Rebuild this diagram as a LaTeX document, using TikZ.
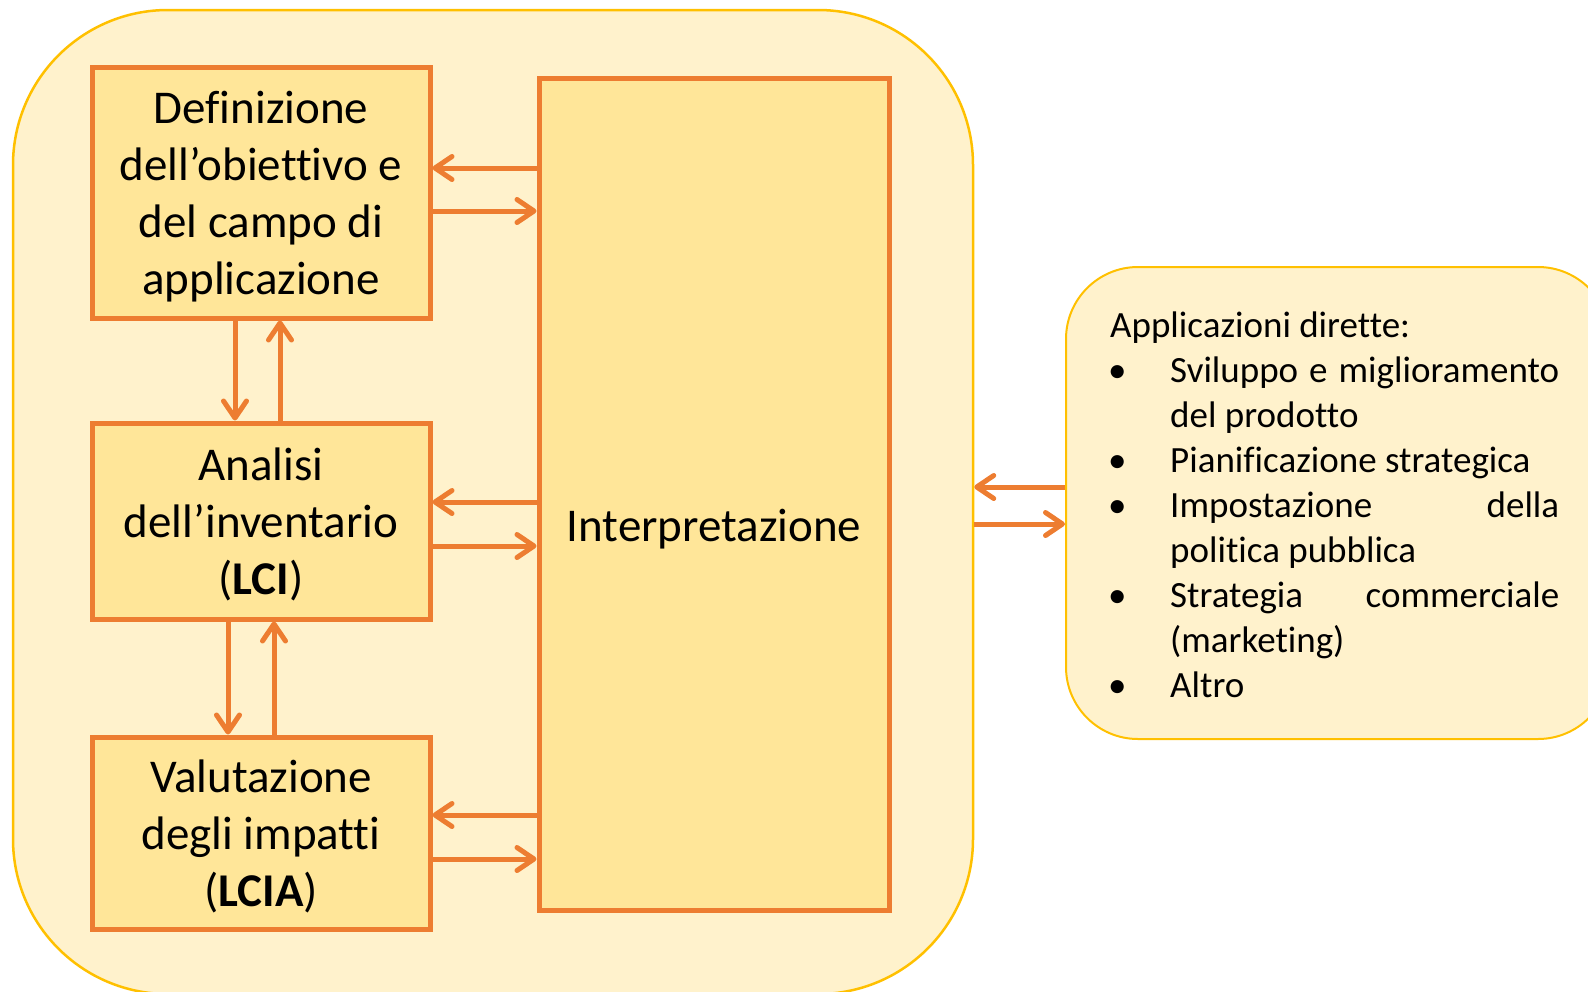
\documentclass[tikz,border=0pt]{standalone}
\usepackage{fontspec}
\setmainfont{Carlito}[Ligatures={NoCommon}]
\usetikzlibrary{arrows.meta}
\definecolor{panelfill}{HTML}{FFF2CC}
\definecolor{paneledge}{HTML}{FFC000}
\definecolor{boxfill}{HTML}{FFE699}
\definecolor{boxedge}{HTML}{ED7D31}
% invisible struts fixing the vertical extent of the phase labels
\newcommand\phasetop{\rule{0pt}{43pt}}
\newcommand\phasebot{\rule[-10pt]{0pt}{10pt}}

\begin{document}
\begin{tikzpicture}[x=1pt,y=-1pt,
  panel/.style={draw=paneledge, fill=panelfill, line width=2.5pt, inner sep=0pt},
  phase/.style={draw=boxedge, fill=boxfill, line width=5pt, align=center,
    font=\fontsize{47}{57}\selectfont, inner sep=0pt},
  flow/.style={draw=boxedge, line width=5pt,
    -{Straight Barb[length=17pt,width=23pt,line cap=round,line join=round]}},
  listtext/.style={anchor=base west, inner sep=0pt, font=\fontsize{37}{45}\selectfont}]
\useasboundingbox (0,0) rectangle (1588,991);
\clip (0,0) rectangle (1588,991);

% outer LCA framework and the applications panel
\node[panel, rounded corners=155pt, minimum width=960pt, minimum height=984pt] (frame) at (493,502) {};
\node[panel, line width=2pt, rounded corners=72pt, minimum width=544pt, minimum height=472pt] (apps) at (1338,503) {};

% the four phases
\node[phase, minimum width=338pt, minimum height=251pt] (goal) at (261,192.5)
  {\phasetop Definizione\\dell’obiettivo e\\del campo di\\applicazione\phasebot};
\node[phase, minimum width=338pt, minimum height=196pt] (lci) at (261,521)
  {\phasetop Analisi\\dell’inventario\\(\textbf{LCI})\phasebot};
\node[phase, minimum width=338pt, minimum height=192pt] (lcia) at (261,833)
  {\phasetop Valutazione\\degli impatti\\(\textbf{LCIA})\phasebot};
\node[phase, minimum width=350pt, minimum height=832pt] (interp) at (714,494) {};
\node[anchor=base, inner sep=0pt, font=\fontsize{47}{57}\selectfont] (interplabel) at (714,541) {Interpretazione};

% exchanges with the interpretation phase
\draw[flow] (interp.west |- 0,168) -- (goal.east |- 0,168);
\draw[flow] (goal.east |- 0,211) -- (interp.west |- 0,211);
\draw[flow] (interp.west |- 0,502) -- (lci.east |- 0,502);
\draw[flow] (lci.east |- 0,546) -- (interp.west |- 0,546);
\draw[flow] (interp.west |- 0,815) -- (lcia.east |- 0,815);
\draw[flow] (lcia.east |- 0,859) -- (interp.west |- 0,859);

% iterations between consecutive phases
\draw[flow] (goal.south -| 235,0) -- (lci.north -| 235,0);
\draw[flow] (lci.north -| 280,0) -- (goal.south -| 280,0);
\draw[flow] (lci.south -| 228,0) -- (lcia.north -| 228,0);
\draw[flow] (lcia.north -| 274,0) -- (lci.south -| 274,0);

% link to direct applications
\draw[flow] (apps.west |- 0,487) -- (frame.east |- 0,487);
\draw[flow] (frame.east |- 0,524) -- (apps.west |- 0,524);

% list of direct applications
\node[listtext] (head) at (1110,337) {Applicazioni dirette:};
\foreach \k in {1,3,4,6,8} {
  \node[listtext] (bullet\k) at (1108,337+45*\k) {\textbullet};
}
\node[listtext] (item1a) at (1170,382) {\makebox[389pt][s]{Sviluppo e miglioramento}};
\node[listtext] (item1b) at (1170,427) {del prodotto};
\node[listtext] (item2) at (1170,472) {Pianificazione strategica};
\node[listtext] (item3a) at (1170,517) {\makebox[389pt][s]{Impostazione della}};
\node[listtext] (item3b) at (1170,562) {politica pubblica};
\node[listtext] (item4a) at (1170,607) {\makebox[389pt][s]{Strategia commerciale}};
\node[listtext] (item4b) at (1170,652) {(marketing)};
\node[listtext] (item5) at (1170,697) {Altro};
\end{tikzpicture}
\end{document}
